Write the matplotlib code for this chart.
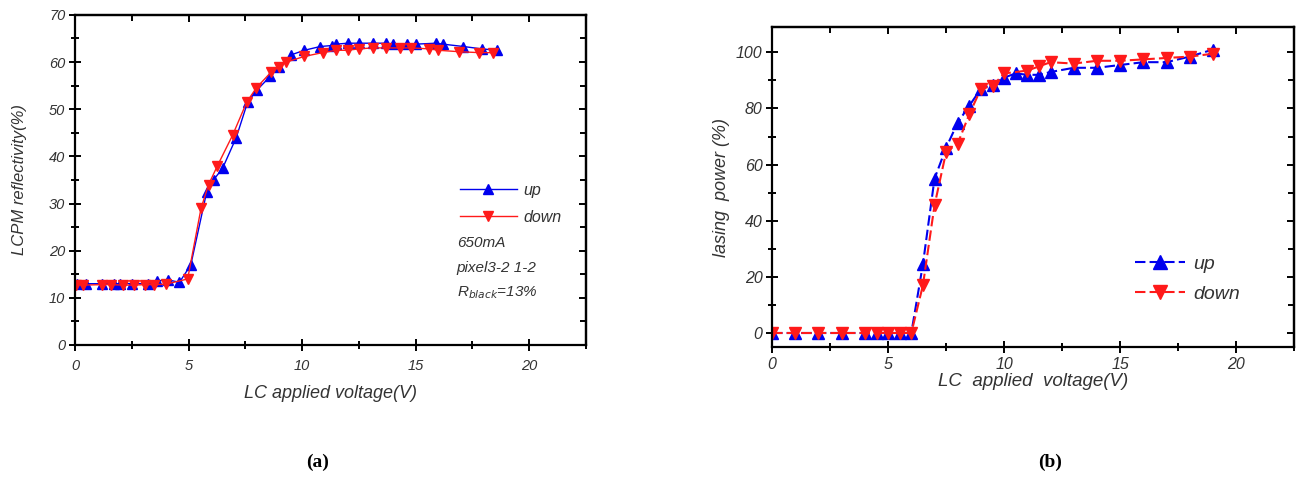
import matplotlib.pyplot as plt
from matplotlib.ticker import MultipleLocator

plt.rcParams['font.family'] = ['Liberation Sans', 'DejaVu Sans']

# (a) LCPM reflectivity
a_up_v = [0.08, 0.5, 1.2, 1.7, 2.0, 2.5, 3.2, 3.6, 4.1, 4.6, 5.1, 5.8, 6.1, 6.5, 7.1, 7.6, 8.0, 8.6, 9.0, 9.5,
          10.1, 10.8, 11.3, 11.5, 12.0, 12.5, 13.1, 13.7, 14.0, 14.6, 15.0, 15.9, 16.2, 17.1, 17.9, 18.6]
a_up_r = [13.0, 13.0, 13.0, 13.0, 13.0, 13.0, 13.0, 13.6, 13.8, 13.3, 17.0, 32.5, 35.0, 37.5, 44.0, 51.5, 54.0, 57.0, 59.0, 61.5,
          62.5, 63.3, 63.5, 63.8, 64.0, 64.0, 64.0, 64.0, 63.8, 63.8, 63.8, 64.0, 63.8, 63.3, 62.8, 62.5]
a_dn_v = [0.05, 0.34, 1.2, 1.6, 2.1, 2.6, 3.1, 3.5, 4.0, 4.96, 5.55, 5.88, 6.27, 6.94, 7.56, 7.98, 8.62, 9.0, 9.3,
          10.1, 10.9, 11.5, 12.0, 12.5, 13.1, 13.7, 14.3, 14.8, 15.6, 16.0, 16.9, 17.8, 18.4]
a_dn_r = [12.8, 12.7, 12.8, 12.8, 12.7, 12.7, 12.8, 12.8, 12.9, 14.0, 29.0, 34.0, 38.0, 44.5, 51.5, 54.5, 57.8, 59.0, 60.0,
          61.2, 62.0, 62.5, 62.5, 62.8, 63.0, 63.0, 63.0, 63.0, 62.8, 62.5, 62.2, 62.0, 62.0]

# (b) lasing power
b_up_v = [0, 1, 2, 3, 4, 4.5, 5, 5.5, 6, 6.5, 7, 7.5, 8, 8.5, 9, 9.5, 10, 10.5, 11, 11.5, 12, 13, 14, 15, 16, 17, 18, 19]
b_up_p = [0, 0, 0, 0, 0, 0, 0, 0, 0, 24.5, 55, 66, 75, 81, 87, 88.5, 91, 92.5, 92, 92, 93, 94.5, 94.5, 95.5, 96.5, 96.5, 98.5, 101]
b_dn_v = [0, 1, 2, 3, 4, 4.5, 5, 5.5, 6, 6.5, 7, 7.5, 8, 8.5, 9, 9.5, 10, 11, 11.5, 12, 13, 14, 15, 16, 17, 18, 19]
b_dn_p = [0, 0, 0, 0, 0, 0, 0, 0, 0, 17, 45.5, 64.5, 67.5, 78, 87, 88, 92.5, 93.5, 95, 96.5, 96, 97, 97, 97.5, 98, 98.5, 99.5]

fig = plt.figure(figsize=(13.02, 4.84), dpi=100)
ax1 = fig.add_axes([0.0576, 0.2872, 0.3925, 0.682])
ax2 = fig.add_axes([0.593, 0.283, 0.401, 0.661])

blue = '#0000ee'
red = '#ff1a1a'

ax1.plot(a_up_v, a_up_r, '-', color=blue, lw=1.0, marker='^', ms=7, label='up')
ax1.plot(a_dn_v, a_dn_r, '-', color=red, lw=1.0, marker='v', ms=7, label='down')
ax1.set_xlim(0, 22.5)
ax1.set_ylim(0, 70)
ax1.set_xlabel('LC applied voltage(V)', fontsize=13, style='italic', color='#333333', labelpad=9)
ax1.set_ylabel('LCPM reflectivity(%)', fontsize=12, style='italic', color='#333333', labelpad=16)
leg1 = ax1.legend(loc='upper left', bbox_to_anchor=(0.74, 0.51), frameon=False, fontsize=11.5,
                  handlelength=3.6, borderaxespad=0, labelspacing=0.75, handletextpad=0.4)
for t in leg1.get_texts():
    t.set_style('italic')
    t.set_color('#333333')
ax1.text(0.747, 0.31, '650mA', transform=ax1.transAxes, fontsize=11, style='italic', color='#333333', va='center')
ax1.text(0.747, 0.232, 'pixel3-2 1-2', transform=ax1.transAxes, fontsize=11, style='italic', color='#333333', va='center')
ax1.text(0.747, 0.16, r'R$_{\mathit{black}}$=13%', transform=ax1.transAxes, fontsize=11, style='italic',
         color='#333333', va='center')

ax2.plot(b_up_v, b_up_p, color=blue, lw=1.5, ls=(0, (5, 2)), marker='^', ms=9, label='up')
ax2.plot(b_dn_v, b_dn_p, color=red, lw=1.5, ls=(0, (5, 2)), marker='v', ms=9, label='down')
ax2.set_xlim(0, 22.5)
ax2.set_ylim(-5, 109)
ax2.set_xlabel('LC  applied  voltage(V)', fontsize=13.5, style='italic', color='#333333', labelpad=1)
ax2.set_ylabel('lasing  power (%)', fontsize=13, style='italic', color='#333333', labelpad=4)
leg2 = ax2.legend(loc='upper left', bbox_to_anchor=(0.68, 0.31), frameon=False, fontsize=14,
                  handlelength=2.6, borderaxespad=0, labelspacing=0.6, handletextpad=0.4, markerscale=1.15)
for t in leg2.get_texts():
    t.set_style('italic')
    t.set_color('#333333')

for ax, fs, xs, ys in ((ax1, 10.5, 5, 10), (ax2, 11.5, 5, 20)):
    for s in ax.spines.values():
        s.set_linewidth(1.6)
    ax.xaxis.set_major_locator(MultipleLocator(xs))
    ax.xaxis.set_minor_locator(MultipleLocator(xs / 2))
    ax.yaxis.set_major_locator(MultipleLocator(ys))
    ax.yaxis.set_minor_locator(MultipleLocator(ys / 2))
    ax.tick_params(which='both', direction='inout', width=1.4, labelsize=fs, labelcolor='#333333', pad=3)
    ax.tick_params(which='major', length=8)
    ax.tick_params(which='minor', length=6)
    for lab in ax.get_xticklabels() + ax.get_yticklabels():
        lab.set_style('italic')
    # inward ticks on top and right
    top = ax.secondary_xaxis('top')
    right = ax.secondary_yaxis('right')
    for sec, axis, step in ((top, top.xaxis, xs), (right, right.yaxis, ys)):
        axis.set_major_locator(MultipleLocator(step))
        axis.set_minor_locator(MultipleLocator(step / 2))
        sec.tick_params(which='both', direction='in', width=1.4)
        sec.tick_params(which='major', length=5)
        sec.tick_params(which='minor', length=4)
        for s in sec.spines.values():
            s.set_linewidth(1.6)
    top.tick_params(labeltop=False)
    right.tick_params(labelright=False)

ax1.tick_params(axis='x', pad=6)

fig.text(318 / 1302, 1 - 462 / 484, '(a)', fontsize=14, fontweight='bold', family='Liberation Serif',
         ha='center', va='center')
fig.text(1050 / 1302, 1 - 462 / 484, '(b)', fontsize=14, fontweight='bold', family='Liberation Serif',
         ha='center', va='center')

fig.savefig('out.png', dpi=100)
